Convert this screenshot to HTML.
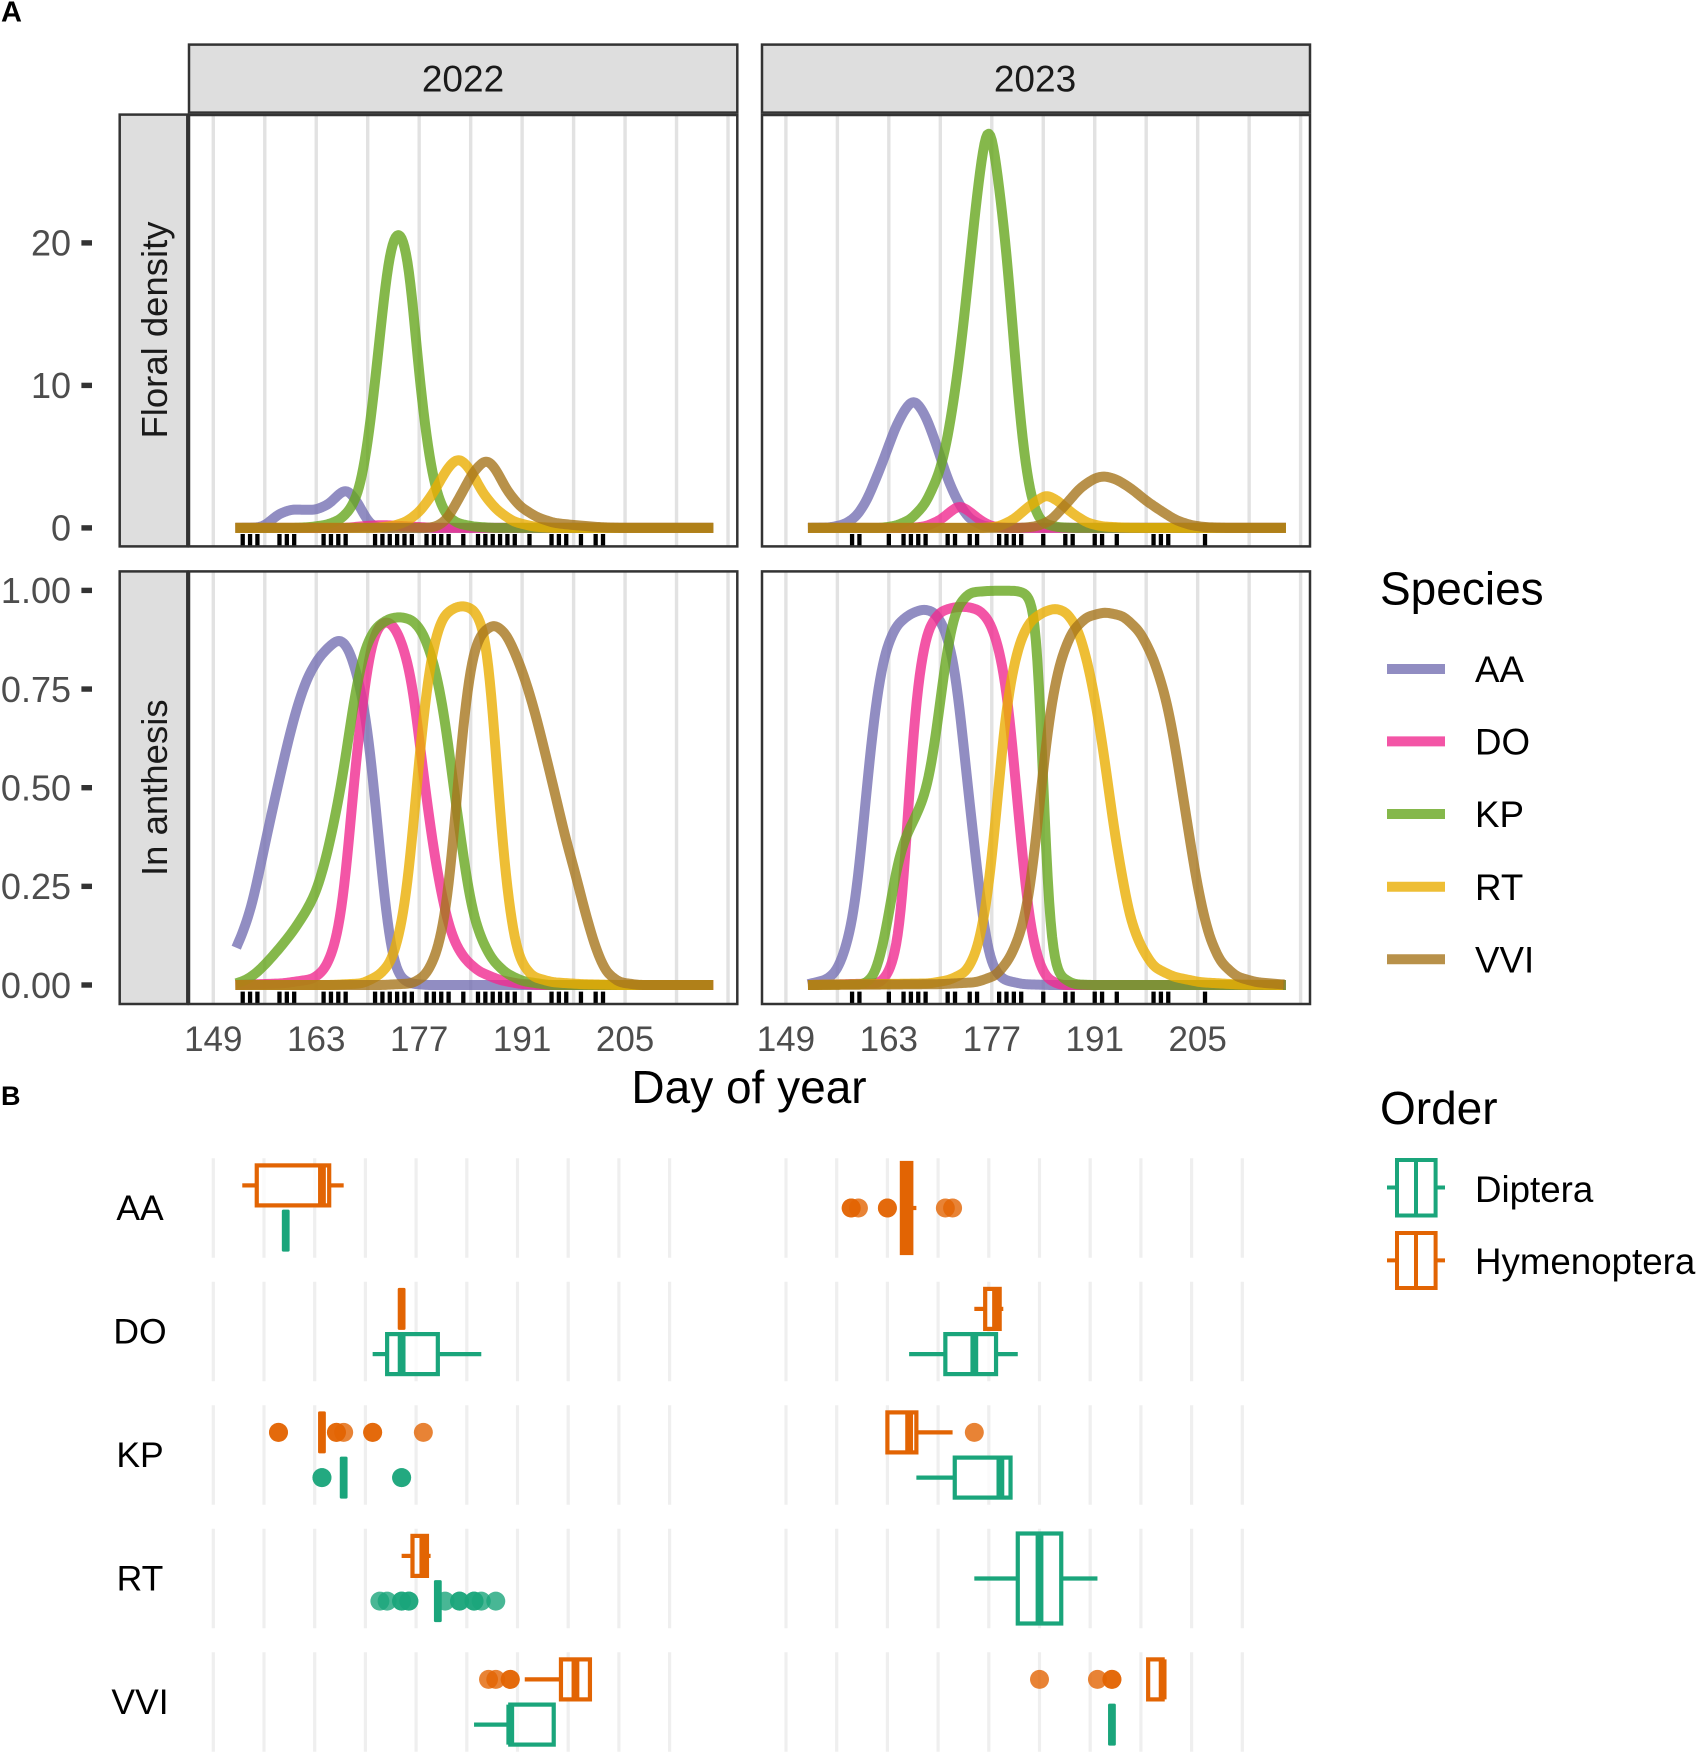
<!DOCTYPE html>
<html lang="en">
<head>
<meta charset="utf-8">
<title>Floral density, anthesis and visitor phenology</title>
<style>
html,body{margin:0;padding:0;background:#fff;}
svg{display:block;font-family:"Liberation Sans",Arial,sans-serif;}
</style>
</head>
<body>
<svg id="chart" xmlns="http://www.w3.org/2000/svg" width="1700" height="1753" viewBox="0 0 1700 1753">
  <defs>
    <clipPath id="clip-d22"><rect x="189" y="115" width="548.3" height="431.4"/></clipPath>
    <clipPath id="clip-d23"><rect x="762" y="115" width="548" height="431.4"/></clipPath>
    <clipPath id="clip-a22"><rect x="189" y="571.4" width="548.3" height="432.6"/></clipPath>
    <clipPath id="clip-a23"><rect x="762" y="571.4" width="548" height="432.6"/></clipPath>
  </defs>
  <rect width="1700" height="1753" fill="#fff"/>
  <text x="1" y="21.5" font-size="29" font-weight="bold" fill="#000">A</text>
  <text x="1" y="1105" font-size="27" font-weight="bold" fill="#000">B</text>

  <g>
    <rect x="189" y="44.6" width="548.3" height="68" fill="#dedede" stroke="#333" stroke-width="2.5"/>
    <text x="463" y="91.4" font-size="37" text-anchor="middle" fill="#1a1a1a">2022</text>
  </g>
  <g>
    <rect x="762" y="44.6" width="548" height="68" fill="#dedede" stroke="#333" stroke-width="2.5"/>
    <text x="1035" y="91.4" font-size="37" text-anchor="middle" fill="#1a1a1a">2023</text>
  </g>
  <g>
    <rect x="119.7" y="114.6" width="67.6" height="431.8" fill="#dedede" stroke="#333" stroke-width="2.5"/>
    <text transform="translate(167,330) rotate(-90)" font-size="36.5" text-anchor="middle" fill="#1a1a1a">Floral density</text>
  </g>
  <g>
    <rect x="119.7" y="571.4" width="67.6" height="432.6" fill="#dedede" stroke="#333" stroke-width="2.5"/>
    <text transform="translate(167,787.7) rotate(-90)" font-size="36.5" text-anchor="middle" fill="#1a1a1a">In anthesis</text>
  </g>

  <g id="panels"></g>
  <g id="axes"></g>
  <g id="visitors"></g>

  <text x="749" y="1103" font-size="46" text-anchor="middle" fill="#000">Day of year</text>

  <g>
    <text x="1380" y="604.6" font-size="46" fill="#000">Species</text>
    <g>
      <line x1="1387" x2="1445" y1="669" y2="669" stroke="#7570b3" stroke-opacity=".8" stroke-width="10"/>
      <text x="1475" y="682" font-size="36.7" fill="#000">AA</text>
    </g>
    <g>
      <line x1="1387" x2="1445" y1="741.4" y2="741.4" stroke="#f02a90" stroke-opacity=".8" stroke-width="10"/>
      <text x="1475" y="754.4" font-size="36.7" fill="#000">DO</text>
    </g>
    <g>
      <line x1="1387" x2="1445" y1="814" y2="814" stroke="#66a61e" stroke-opacity=".8" stroke-width="10"/>
      <text x="1475" y="827" font-size="36.7" fill="#000">KP</text>
    </g>
    <g>
      <line x1="1387" x2="1445" y1="886.8" y2="886.8" stroke="#eaae02" stroke-opacity=".8" stroke-width="10"/>
      <text x="1475" y="899.8" font-size="36.7" fill="#000">RT</text>
    </g>
    <g>
      <line x1="1387" x2="1445" y1="959.3" y2="959.3" stroke="#a6761d" stroke-opacity=".8" stroke-width="10"/>
      <text x="1475" y="972.3" font-size="36.7" fill="#000">VVI</text>
    </g>
  </g>

  <g>
    <text x="1380" y="1124" font-size="46" fill="#000">Order</text>
    <g fill="none" stroke="#1aa57b" stroke-width="4">
      <line x1="1387" x2="1445" y1="1187.5" y2="1187.5"/>
      <rect x="1397" y="1160" width="38.6" height="55.5" fill="#fff"/>
      <line x1="1416" x2="1416" y1="1160" y2="1215.5"/>
      <text x="1475" y="1202" font-size="36.7" fill="#000" stroke="none">Diptera</text>
    </g>
    <g fill="none" stroke="#e26403" stroke-width="4">
      <line x1="1387" x2="1445" y1="1260.4" y2="1260.4"/>
      <rect x="1397" y="1233" width="38.6" height="55" fill="#fff"/>
      <line x1="1416" x2="1416" y1="1233" y2="1288"/>
      <text x="1475" y="1274" font-size="36.7" fill="#000" stroke="none">Hymenoptera</text>
    </g>
  </g>
</svg>

<script>
// ---- categories and tick labels ----
const speciesNames = ['AA', 'DO', 'KP', 'RT', 'VVI'];
const speciesColors = ['#7570b3', '#f02a90', '#66a61e', '#eaae02', '#a6761d'];
const gridDays = [149, 156, 163, 170, 177, 184, 191, 198, 205, 212, 219];
const gridDaysB = [149, 156, 163, 170, 177, 184, 191, 198, 205, 212];
const xTickDays = [149, 163, 177, 191, 205];
const densityTicks = [0, 10, 20];
const densityTickLabels = ['0', '10', '20'];
const anthesisTicks = [0, 0.25, 0.5, 0.75, 1];
const anthesisTickLabels = ['0.00', '0.25', '0.50', '0.75', '1.00'];

// ---- sampling days (rug) ----
const rug2022 = [153,154,155,158,159,160,164,165,166,167,171,172,173,174,175,176,178,179,180,181,183,185,186,187,188,189,190,192,195,196,197,199,201,202];
const rug2023 = [158,159,163,165,166,167,168,171,172,174,175,178,179,180,181,184,187,188,191,192,194,199,200,201,206];

// ---- floral density 2022 ----
const dens22AA_days = [152,154.9,155.8,156.7,157.8,159.6,161.2,163,164.85,166,167.1,168.25,169.2,169.85,170.75,172.1,217];
const dens22AA_vals = [0,0.02,0.1,0.45,0.95,1.3,1.27,1.27,1.7,2.35,2.75,2.1,1.25,0.56,0.1,0,0];
const dens22DO_days = [152,167,170,172,175,179,217];
const dens22DO_vals = [0,0,0.15,0.2,0.12,0,0];
const dens22KP_days = [152,160,162.1,164.4,166.2,167.6,168.7,169.6,170.3,171,171.66,172.57,173,173.5,174.16,174.84,175.3,175.75,176.4,177.1,177.8,178.5,179.4,180.5,182.1,184.4,187.1,217];
const dens22KP_vals = [0,0,0.05,0.21,0.56,1.26,2.4,4.5,7.1,10.2,13.5,17.9,19.4,20.3,21,20.3,19.4,17.9,14.1,10.2,7.1,4.5,2.4,1,0.33,0.09,0,0];
const dens22RT_days = [152,171,173.5,175.3,177.1,178.9,180.7,181.6,182.46,183.2,183.9,185.7,187.55,189.8,192.5,195.3,217];
const dens22RT_vals = [0,0,0.14,0.44,1.15,2.43,4.07,4.65,4.9,4.55,4.14,2.4,1.26,0.44,0.09,0,0];
const dens22VVI_days = [152,178.2,179.4,180.74,182.55,184.37,186.1,187.3,188.9,190.7,193,195.3,198,201.6,204.3,217];
const dens22VVI_vals = [0,0,0.1,0.56,2.2,3.95,4.85,4.25,2.65,1.5,0.75,0.35,0.2,0.05,0,0];

// ---- floral density 2023 ----
const dens23AA_days = [152,155,157,158.6,160,162,164,165.5,166.5,168,169.5,171,172.5,174,176,179,217];
const dens23AA_vals = [0,0.03,0.25,0.8,1.9,4.4,7.2,8.6,9.05,7.9,5.8,3.4,1.7,0.6,0.1,0,0];
const dens23DO_days = [152,166,168,170,171.5,172.6,174,175.5,177,179,217];
const dens23DO_vals = [0,0,0.1,0.55,1.2,1.6,1.15,0.5,0.1,0,0];
const dens23KP_days = [152,162,164,166,168,170,171,172,173,174,175,176,176.5,177,178,179,180,181,182,183,184,186,188,217];
const dens23KP_vals = [0,0,0.15,0.6,1.7,4,6.3,9.5,13.5,18.5,23.5,27.4,28.6,27.8,24,19.5,13,6.8,2.9,1,0.3,0.05,0,0];
const dens23RT_days = [152,176,178,180,182,184.4,186,188,190,192,195,198,217];
const dens23RT_vals = [0,0,0.1,0.6,1.5,2.35,1.9,1,0.35,0.1,0.02,0,0];
const dens23VVI_days = [152,181,183,185,187,189,191,192.3,194,196,198,200,202,204,206,209,217];
const dens23VVI_vals = [0,0,0.1,0.5,1.6,2.8,3.5,3.65,3.4,2.75,1.9,1.2,0.55,0.2,0.05,0,0];

// ---- in anthesis 2022 ----
const anth22AA_days = [152.12,153.25,154.38,155.52,156.87,158,159.14,160.5,161.85,163.43,165,166.15,167.3,168.4,169.3,170,170.67,171.35,172.03,172.7,173.4,174.3,175.65,177.9,217];
const anth22AA_vals = [0.0946,0.144,0.211,0.312,0.43,0.523,0.616,0.712,0.782,0.832,0.862,0.878,0.858,0.798,0.728,0.644,0.534,0.399,0.264,0.152,0.068,0.021,0.004,0,0];
const anth22DO_days = [152,158.46,162.53,164.1,165.25,166.15,167.05,167.73,168.4,169.1,169.77,170.67,171.8,172.94,174.07,175.2,176.1,177,177.7,178.8,179.7,180.85,181.99,183.34,185.15,187.87,190.6,193.3,217];
const anth22DO_vals = [0,0.004,0.015,0.038,0.084,0.152,0.279,0.431,0.566,0.684,0.785,0.878,0.918,0.922,0.895,0.836,0.76,0.625,0.515,0.363,0.262,0.16,0.101,0.063,0.034,0.013,0.003,0,0];
const anth22KP_days = [152.12,153.48,154.84,156.2,158,159.8,161.6,163,164.34,165.24,166.15,167.05,167.96,168.86,169.77,171.13,172.94,174.52,176.1,177.46,178.82,179.95,180.86,181.76,182.67,183.57,184.48,185.6,186.97,188.8,191,194.6,217];
const anth22KP_vals = [0.004,0.0127,0.03,0.0549,0.093,0.135,0.186,0.236,0.321,0.397,0.481,0.583,0.701,0.794,0.861,0.907,0.929,0.933,0.925,0.895,0.828,0.735,0.625,0.49,0.372,0.253,0.169,0.11,0.063,0.03,0.01,0,0];
const anth22RT_days = [152,165,169.3,171.6,173.2,174.3,175.2,176.1,176.8,177.46,178.14,179.05,180.18,181.53,182.89,184.47,185.6,186.3,187,187.64,188.3,189,189.9,190.8,192.4,195.1,199.2,204.2,217];
const anth22RT_vals = [0,0,0.004,0.025,0.059,0.127,0.22,0.38,0.532,0.659,0.769,0.87,0.933,0.954,0.962,0.952,0.912,0.845,0.701,0.532,0.363,0.236,0.118,0.059,0.021,0.007,0.002,0,0];
const anth22VVI_days = [152,172,176.1,177.9,179.3,180.4,181.3,182,182.67,183.34,184.25,185.4,187.2,188.8,190.1,191.5,192.85,194.2,195.56,196.9,198.3,199.6,200.99,202.35,204.16,206.9,217];
const anth22VVI_vals = [0,0,0.004,0.025,0.076,0.16,0.296,0.448,0.6,0.718,0.836,0.891,0.915,0.891,0.84,0.77,0.684,0.583,0.478,0.372,0.278,0.182,0.093,0.034,0.007,0,0];

// ---- in anthesis 2023 ----
const anth23AA_days = [152,154.5,155.86,157,158.13,159.04,159.95,160.86,161.77,162.67,164.03,165.85,167.67,169.25,170.6,171.75,172.66,173.57,174.47,175.38,176.3,177.2,178.56,181.28,184.9,217];
const anth23AA_vals = [0.002,0.013,0.034,0.084,0.169,0.304,0.49,0.659,0.78,0.855,0.912,0.94,0.953,0.945,0.904,0.828,0.7,0.532,0.38,0.228,0.101,0.042,0.013,0.002,0,0];
const anth23DO_days = [152,161.77,163.13,164.26,164.94,165.49,166.08,166.67,167.44,168.35,169.94,171.75,173.57,175.38,176.74,177.88,178.79,179.47,180.15,180.83,181.51,182.19,183.33,184.46,186.28,217];
const anth23DO_vals = [0,0.004,0.034,0.11,0.236,0.405,0.574,0.718,0.828,0.904,0.946,0.957,0.959,0.95,0.921,0.861,0.777,0.676,0.532,0.397,0.262,0.152,0.059,0.017,0,0];
const anth23KP_days = [152,159.72,161.08,162.22,163.13,164.03,165.17,166.53,167.89,168.8,169.71,170.62,171.52,172.43,174.02,176.74,180.38,181.74,182.65,183.19,183.65,184.1,184.55,185.14,186.05,188.09,190.4,217];
const anth23KP_vals = [0,0.002,0.025,0.101,0.194,0.296,0.372,0.422,0.481,0.557,0.676,0.811,0.912,0.963,0.995,0.999,0.999,0.992,0.963,0.887,0.701,0.448,0.237,0.093,0.025,0.002,0,0];
const anth23RT_days = [152,168.57,171.3,173.57,174.93,176.06,176.97,177.88,178.79,179.7,180.83,182.19,184,185.6,187.18,188.77,190.13,191.27,192.4,193.54,194.67,195.8,197.17,198.99,201.7,205.34,210.8,216.7];
const anth23RT_vals = [0,0.004,0.013,0.034,0.084,0.177,0.312,0.49,0.676,0.785,0.872,0.922,0.945,0.955,0.945,0.9,0.811,0.701,0.566,0.405,0.279,0.169,0.101,0.046,0.021,0.007,0.001,0];
const anth23VVI_days = [152,169.94,174.93,177.65,179.47,180.83,181.96,182.87,183.55,184.23,185.14,186.28,187.86,189.9,192.4,194.9,197.17,198.99,200.58,201.7,202.85,203.98,205.1,206.47,208.06,210.3,213,216.9];
const anth23VVI_vals = [0,0.002,0.007,0.025,0.068,0.127,0.211,0.346,0.465,0.591,0.718,0.819,0.895,0.933,0.945,0.935,0.895,0.828,0.735,0.633,0.498,0.363,0.236,0.127,0.059,0.021,0.007,0.001];

// ---- visitor boxplots (one entry per species, null = no records) ----
const hym22_low = [153,175,164,175,192];
const hym22_q1  = [155,175,164,176.5,197];
const hym22_med = [164,175,164,178,199];
const hym22_q3  = [165,175,164,178.5,201];
const hym22_high= [167,175,164,179,201];
const hym22_out = [[],[],[158,158,166,166,167,171,171,178],[],[187,188,190,190]];

const dip22_low = [159,171,167,180,185];
const dip22_q1  = [159,173,167,180,190];
const dip22_med = [159,175,167,180,190];
const dip22_q3  = [159,180,167,180,196];
const dip22_high= [159,186,167,180,196];
const dip22_out = [[],[],[164,164,175,175],[172,173,175,175,176,176,181,183,183,185,185,186,188],[]];

const hym23_low = [165,175,163,null,199];
const hym23_q1  = [165,176.5,163,null,199];
const hym23_med = [165.65,178,166,null,201];
const hym23_q3  = [166.3,178.5,167,null,201];
const hym23_high= [167,179,172,null,201];
const hym23_out = [[158,158,159,163,163,171,172],[],[175],[],[184,192,194,194]];

const dip23_low = [null,166,167,175,194];
const dip23_q1  = [null,171,172.3,181,194];
const dip23_med = [null,175,178.6,184,194];
const dip23_q3  = [null,178,180,187,194];
const dip23_high= [null,181,180,192,194];
const dip23_out = [[],[],[],[],[]];

// ---- axis functions ----
function xA22(d){ return 213.3 + (d - 149) * 7.353; }
function xA23(d){ return 785.9 + (d - 149) * 7.353; }
function yDensity(v){ return 527.9 - v * 14.25; }
function yAnthesis(v){ return 985 - v * 394.6; }
function xB22(d){ return 213.3 + (d - 149) * 7.243; }
function xB23(d){ return 786 + (d - 149) * 7.243; }
function rowCenter(i){ return 1208 + i * 123.5; }

const SVGNS = 'http://www.w3.org/2000/svg';

function mk(parent, tag, name, props){
  const el = document.createElementNS(SVGNS, tag);
  
  
  for (const k in props) el.setAttribute(k, props[k]);
  parent.appendChild(el);
  return el;
}

// Linear lookup in the read-off values, then a small moving average so the
// drawn line is smooth like the fitted curve in the figure.
function lookup(days, vals, x){
  if (x <= days[0]) return vals[0];
  const n = days.length;
  if (x >= days[n - 1]) return vals[n - 1];
  let i = 0;
  while (days[i + 1] < x) i++;
  const f = (x - days[i]) / (days[i + 1] - days[i]);
  return vals[i] + f * (vals[i + 1] - vals[i]);
}

function smoothedValue(days, vals, x){
  const sigma = 0.5;
  const r = Math.min(1.5, x - days[0], days[days.length - 1] - x);
  if (r <= 0) return lookup(days, vals, x);
  let sum = 0, weight = 0;
  for (let k = -12; k <= 12; k++){
    const u = r * k / 12;
    const w = Math.exp(-u * u / (2 * sigma * sigma));
    sum += w * lookup(days, vals, x + u);
    weight += w;
  }
  return sum / weight;
}

function curvePath(days, vals, xFn, yFn){
  const first = days[0], last = days[days.length - 1];
  let d = '';
  for (let x = first; x < last + 1e-6; x += 0.2){
    const cx = Math.min(x, last);
    d += (d ? 'L' : 'M') + xFn(cx).toFixed(2) + ' ' + yFn(smoothedValue(days, vals, cx)).toFixed(2);
  }
  return d;
}

const panelsLayer = document.getElementById('panels');
const axesLayer = document.getElementById('axes');
const visitorsLayer = document.getElementById('visitors');

function drawPanel(key, xFn, yFn, box, rug, curveDays, curveVals){
  const g = mk(panelsLayer, 'g', 'panel-' + key, {});
  const clipped = mk(g, 'g', 'panel-' + key + '-plot', {'clip-path': 'url(#clip-' + key + ')'});
  gridDays.forEach(function(d){
    mk(clipped, 'line', 'gridline-' + d, {
      x1: xFn(d), x2: xFn(d), y1: box.top, y2: box.bottom,
      stroke: '#e2e2e2', 'stroke-width': 3.4
    });
  });
  speciesNames.forEach(function(sp, i){
    mk(clipped, 'path', 'curve-' + sp.toLowerCase() + '-' + key, {
      d: curvePath(curveDays[i], curveVals[i], xFn, yFn), fill: 'none', stroke: speciesColors[i],
      'stroke-opacity': 0.8, 'stroke-width': 10, 'stroke-linejoin': 'round', 'stroke-linecap': 'butt'
    });
  });
  rug.forEach(function(d){
    mk(clipped, 'line', 'rug-tick-' + d, {
      x1: xFn(d), x2: xFn(d), y1: box.bottom - 12.4, y2: box.bottom,
      stroke: '#000', 'stroke-width': 4.3
    });
  });
  mk(g, 'rect', 'panel-border-' + key, {
    x: box.left, y: box.top, width: box.right - box.left, height: box.bottom - box.top,
    fill: 'none', stroke: '#333', 'stroke-width': 2.5
  });
}

drawPanel('d22', xA22, yDensity, {left:189, right:737.3, top:115, bottom:546.4}, rug2022,
  [dens22AA_days, dens22DO_days, dens22KP_days, dens22RT_days, dens22VVI_days],
  [dens22AA_vals, dens22DO_vals, dens22KP_vals, dens22RT_vals, dens22VVI_vals]);
drawPanel('d23', xA23, yDensity, {left:762, right:1310, top:115, bottom:546.4}, rug2023,
  [dens23AA_days, dens23DO_days, dens23KP_days, dens23RT_days, dens23VVI_days],
  [dens23AA_vals, dens23DO_vals, dens23KP_vals, dens23RT_vals, dens23VVI_vals]);
drawPanel('a22', xA22, yAnthesis, {left:189, right:737.3, top:571.4, bottom:1004}, rug2022,
  [anth22AA_days, anth22DO_days, anth22KP_days, anth22RT_days, anth22VVI_days],
  [anth22AA_vals, anth22DO_vals, anth22KP_vals, anth22RT_vals, anth22VVI_vals]);
drawPanel('a23', xA23, yAnthesis, {left:762, right:1310, top:571.4, bottom:1004}, rug2023,
  [anth23AA_days, anth23DO_days, anth23KP_days, anth23RT_days, anth23VVI_days],
  [anth23AA_vals, anth23DO_vals, anth23KP_vals, anth23RT_vals, anth23VVI_vals]);

// y axes
function drawYAxis(name, ticks, labels, yFn){
  ticks.forEach(function(v, i){
    const y = yFn(v);
    mk(axesLayer, 'line', name + '-tick-' + labels[i], {x1: 81.4, x2: 92, y1: y, y2: y, stroke: '#333', 'stroke-width': 5.4});
    const t = mk(axesLayer, 'text', name + '-label-' + labels[i], {x: 71, y: y + 12.8, 'font-size': 36, 'text-anchor': 'end', fill: '#4d4d4d'});
    t.textContent = labels[i];
  });
}
drawYAxis('density-axis', densityTicks, densityTickLabels, yDensity);
drawYAxis('anthesis-axis', anthesisTicks, anthesisTickLabels, yAnthesis);

// x axes
function drawXAxis(name, xFn){
  xTickDays.forEach(function(d){
    const t = mk(axesLayer, 'text', name + '-label-' + d, {x: xFn(d), y: 1051, 'font-size': 35, 'text-anchor': 'middle', fill: '#4d4d4d'});
    t.textContent = String(d);
  });
}
drawXAxis('x-axis-2022', xA22);
drawXAxis('x-axis-2023', xA23);

// panel B
function drawVisitorBox(g, key, xFn, cy, halfH, color, low, q1, med, q3, high){
  if (med === null) return;
  if (q1 === q3){
    mk(g, 'rect', 'median-' + key, {x: xFn(med) - 3.9, y: cy - halfH - 1, width: 7.8, height: 2 * halfH + 2, rx: 1.5, fill: color});
    return;
  }
  mk(g, 'line', 'whisker-low-' + key, {x1: xFn(low), x2: xFn(q1), y1: cy, y2: cy, stroke: color, 'stroke-width': 4.2});
  mk(g, 'line', 'whisker-high-' + key, {x1: xFn(q3), x2: xFn(high), y1: cy, y2: cy, stroke: color, 'stroke-width': 4.2});
  mk(g, 'rect', 'box-' + key, {x: xFn(q1), y: cy - halfH, width: xFn(q3) - xFn(q1), height: 2 * halfH, fill: '#fff', 'fill-opacity': 0.75, stroke: color, 'stroke-width': 4.2});
  mk(g, 'line', 'median-' + key, {x1: xFn(med), x2: xFn(med), y1: cy - halfH, y2: cy + halfH, stroke: color, 'stroke-width': 7.8});
}

function drawVisitorPanel(year, xFn, h, d){
  const g = mk(visitorsLayer, 'g', 'visitor-panel-' + year, {});
  speciesNames.forEach(function(sp, i){
    const c = rowCenter(i);
    const top = c - 49.7, bottom = c + 49.7;
    gridDaysB.forEach(function(day){
      mk(g, 'line', 'gridline-' + day, {x1: xFn(day), x2: xFn(day), y1: top, y2: bottom, stroke: '#efefef', 'stroke-width': 3.2});
    });
  });
  speciesNames.forEach(function(sp, i){
    const c = rowCenter(i);
    const hasH = h.med[i] !== null || h.out[i].length > 0;
    const hasD = d.med[i] !== null || d.out[i].length > 0;
    const both = hasH && hasD;
    const cyH = both ? c - 22.6 : c;
    const cyD = both ? c + 22.6 : c;
    const half = both ? 20 : 45;
    const tag = sp.toLowerCase() + '-' + year;
    const greenish = '#1aa57b', orangey = '#e26403';
    h.out[i].forEach(function(v){
      mk(g, 'circle', 'outlier-hymenoptera-' + tag, {cx: xFn(v), cy: cyH, r: 9.5, fill: orangey, 'fill-opacity': 0.8});
    });
    d.out[i].forEach(function(v){
      mk(g, 'circle', 'outlier-diptera-' + tag, {cx: xFn(v), cy: cyD, r: 9.5, fill: greenish, 'fill-opacity': 0.8});
    });
    drawVisitorBox(g, 'hymenoptera-' + tag, xFn, cyH, half, orangey, h.low[i], h.q1[i], h.med[i], h.q3[i], h.high[i]);
    drawVisitorBox(g, 'diptera-' + tag, xFn, cyD, half, greenish, d.low[i], d.q1[i], d.med[i], d.q3[i], d.high[i]);
  });
}

drawVisitorPanel('2022', xB22,
  {low: hym22_low, q1: hym22_q1, med: hym22_med, q3: hym22_q3, high: hym22_high, out: hym22_out},
  {low: dip22_low, q1: dip22_q1, med: dip22_med, q3: dip22_q3, high: dip22_high, out: dip22_out});
drawVisitorPanel('2023', xB23,
  {low: hym23_low, q1: hym23_q1, med: hym23_med, q3: hym23_q3, high: hym23_high, out: hym23_out},
  {low: dip23_low, q1: dip23_q1, med: dip23_med, q3: dip23_q3, high: dip23_high, out: dip23_out});

speciesNames.forEach(function(sp, i){
  const t = mk(visitorsLayer, 'text', 'row-label-' + sp.toLowerCase(), {x: 140, y: rowCenter(i) + 12, 'font-size': 35.5, 'text-anchor': 'middle', fill: '#000'});
  t.textContent = sp;
});
</script>
</body>
</html>
